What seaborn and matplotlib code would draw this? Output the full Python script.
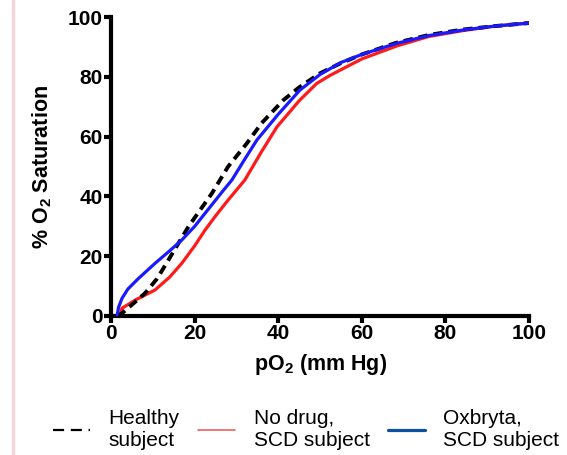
"""Oxygen dissociation curves: healthy vs SCD with/without Oxbryta."""
import numpy as np
import pandas as pd
import matplotlib
matplotlib.use("Agg")
import matplotlib.pyplot as plt
from matplotlib.lines import Line2D
import seaborn as sns

# pO2 (mm Hg) vs % O2 saturation
healthy_x = [1.5, 2.6, 5, 8.1, 11, 13.7, 18.5, 24.1, 28, 32.5, 36, 41.2, 45, 50, 55, 60, 68, 76, 84, 92, 100]
healthy_y = [0, 0.9, 3.8, 7.6, 12.5, 18.7, 29.9, 41, 50, 57.8, 64.5, 72.2, 76.5, 81.2, 84.6, 87.5, 91.3, 94, 95.8, 97, 98]

nodrug_x = [2, 2.6, 6, 10.5, 14, 16.9, 20, 22.5, 25, 28, 32, 36, 39.7, 45, 49.2, 52.4, 56.4, 60, 68.3, 76, 84.3, 92, 100]
nodrug_y = [0, 2.6, 5.5, 8.7, 13, 17.6, 23.5, 28.8, 33.5, 38.8, 45.5, 55, 63.3, 72, 77.8, 80.5, 83.4, 86, 90.3, 93.5, 95.5, 97, 98]

oxbryta_x = [1.4, 1.8, 2.6, 4, 6.5, 10.5, 14, 16.9, 20, 22.5, 26.9, 28.9, 32, 34.9, 40, 45.2, 50, 55, 60, 68.3, 76, 84.3, 92, 100]
oxbryta_y = [0, 3, 5.9, 9, 12.5, 17.6, 21.8, 25.4, 30, 34.4, 42.1, 45.5, 52.5, 58.9, 67.5, 75.6, 80.8, 84.8, 87.5, 91.2, 93.8, 95.7, 97, 98]

x_ticks = [0, 20, 40, 60, 80, 100]
y_ticks = [0, 20, 40, 60, 80, 100]

sns.set_theme(style="ticks")
plt.rcParams["font.family"] = ["Liberation Sans", "DejaVu Sans"]
plt.rcParams["mathtext.fontset"] = "custom"
plt.rcParams["mathtext.rm"] = "Liberation Sans:bold"
plt.rcParams["mathtext.bf"] = "Liberation Sans:bold"
for k in ["text.color", "axes.labelcolor", "xtick.color", "ytick.color", "axes.edgecolor"]:
    plt.rcParams[k] = "black"

fig = plt.figure(figsize=(5.67, 4.55), dpi=100)
ax = fig.add_axes([0.196, 0.3055, 0.737, 0.657])

sns.lineplot(x=nodrug_x, y=nodrug_y, ax=ax, color="#ff1a1a", lw=2.3, sort=False, zorder=2)
sns.lineplot(x=healthy_x, y=healthy_y, ax=ax, color="black", lw=2.8, sort=False, zorder=3)
ax.lines[-1].set_dashes([2.4, 1.5])
sns.lineplot(x=oxbryta_x, y=oxbryta_y, ax=ax, color="#1a1aff", lw=2.3, sort=False, zorder=4)

ax.set_xlim(0, 100)
ax.set_ylim(0, 100)
ax.set_xticks(x_ticks)
ax.set_yticks(y_ticks)
sns.despine(ax=ax)
for s in ["left", "bottom"]:
    ax.spines[s].set_linewidth(3)
ax.tick_params(width=3, length=5, labelsize=15, pad=1)
for lab in ax.get_xticklabels() + ax.get_yticklabels():
    lab.set_fontweight("bold")
ax.set_xlabel(r"pO$_2$ (mm Hg)", fontsize=15.5, fontweight="bold", labelpad=6)
ax.set_ylabel(r"% O$_2$ Saturation", fontsize=15.5, fontweight="bold", labelpad=10)

# pink margin line on the left
fig.add_artist(Line2D([13 / 567, 13 / 567], [0, 1], color="#f7d4d8", lw=2.5))

handles = [
    Line2D([], [], color="black", lw=1.6, dashes=[5, 3]),
    Line2D([], [], color="#f05050", lw=1.1),
    Line2D([], [], color="#0d4fa0", lw=2.3),
]
labels = ["Healthy\nsubject", "No drug,\nSCD subject", "Oxbryta,\nSCD subject"]
fig.legend(handles, labels, loc="lower left", bbox_to_anchor=(0.0755, -0.012), ncol=3,
           frameon=False, fontsize=15, handlelength=1.75, handletextpad=0.9,
           columnspacing=0.9, borderaxespad=0.2, borderpad=0.3)

fig.savefig("out.png", dpi=100)
